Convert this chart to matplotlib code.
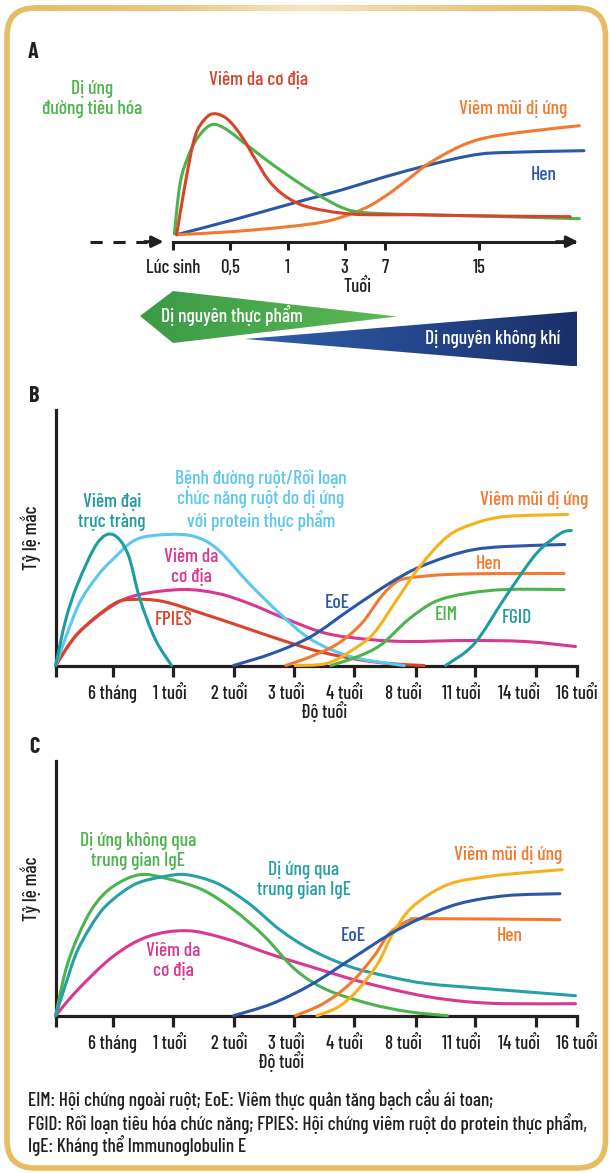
import numpy as np
import matplotlib
matplotlib.use('Agg')
import matplotlib.pyplot as plt
from matplotlib import font_manager as fm
from matplotlib.path import Path
from matplotlib.patches import PathPatch, Polygon, FancyBboxPatch
from matplotlib.colors import LinearSegmentedColormap
from matplotlib.collections import LineCollection

# narrow DIN-like face if there is one
_names = {f.name for f in fm.fontManager.ttflist}
FONT = 'DejaVu Sans'
for cand in ['Barlow Condensed', 'Barlow Semi Condensed', 'Roboto Condensed', 'Fira Sans Condensed']:
    if cand in _names:
        FONT = cand
        break
FAM = [FONT, 'DejaVu Sans']

# ---------------- data ----------------
# panel A, age axis is not linear: positions of the printed ticks
a_tick_pos = [0, 1, 2, 3, 3.7, 5.35]
a_tick_lab = ['Lúc sinh', '0,5', '1', '3', '7', '15']

a_eczema_x = [0.06, 0.21, 0.38, 0.56, 0.73, 0.96, 1.2, 1.43, 1.66, 1.9, 2.19, 2.48, 2.89, 3.35,
              4.23, 5.14, 6.94]
a_eczema_y = [7, 58, 105, 123, 128, 122, 105, 83, 62, 48, 38, 33, 29, 27, 27, 26, 25]
a_gi_x = [0.02, 0.12, 0.26, 0.44, 0.67, 0.91, 1.26, 1.6, 1.95, 2.3, 2.65, 3.0, 3.35, 4.23, 5.14, 7.1]
a_gi_y = [8, 58, 85, 105, 117, 113, 98, 83, 68.5, 55, 43, 33, 29, 27, 26, 23]
a_asthma_x = [0.06, 1.06, 2.19, 2.96, 3.71, 4.46, 5.14, 5.68, 7.18]
a_asthma_y = [7, 22, 40, 52, 65, 76.5, 85.5, 89, 91]
a_rhinitis_x = [0.07, 1.02, 2.0, 2.65, 3.12, 3.47, 3.82, 4.23, 4.46, 5.0, 5.47, 6.16, 7.1]
a_rhinitis_y = [7, 10, 15, 20, 28, 37, 50, 68, 78, 95, 104, 110, 116]

# panels B and C share the age axis; the printed labels sit a bit left of the ticks
age_tick_pos = [0, 0.95, 1.95, 2.96, 3.96, 4.96, 5.99, 6.98, 8.0, 8.67]
age_lab_pos = [0.94, 1.9, 2.885, 3.834, 4.815, 5.78, 6.745, 7.71, 8.675]
age_lab = ['6 tháng', '1 tuổi', '2 tuổi', '3 tuổi', '4 tuổi', '8 tuổi',
           '11 tuổi', '14 tuổi', '16 tuổi']

b_proct_x = [0, 0.17, 0.37, 0.69, 0.95, 1.2, 1.4, 1.66, 1.93]
b_proct_y = [0, 46, 82, 122, 131, 112, 67, 26, 0]
b_fgid_x = [6.49, 6.97, 7.49, 8.0, 8.4, 8.58]
b_fgid_y = [0, 22, 69, 112, 132, 135]
b_entero_x = [0, 0.37, 0.69, 0.95, 1.34, 1.86, 2.31, 2.7, 3.22, 3.73, 4.25, 4.9, 5.55, 5.8]
b_entero_y = [0, 59, 89, 106, 126, 131, 129, 116, 82, 52, 26, 9, 2, 0]
b_eczema_x = [0, 0.37, 0.95, 1.4, 2.12, 2.7, 3.22, 3.86, 4.51, 5.22, 5.87, 6.84, 7.81, 8.65]
b_eczema_y = [0, 32, 60, 71, 76, 72, 62, 46, 32, 26, 24, 25, 24, 19]
b_fpies_x = [0, 0.37, 0.95, 1.28, 1.79, 2.44, 3.09, 3.73, 4.38, 5.03, 5.55, 6.13]
b_fpies_y = [0, 32, 61, 66, 64, 52, 39, 26, 14, 6, 2, 0]
b_eoe_x = [2.96, 3.6, 4.25, 4.9, 5.55, 6.0, 6.52, 6.97, 7.49, 8.47]
b_eoe_y = [0, 12, 29, 56, 82, 97, 109, 116, 119, 121]
b_asthma_x = [3.83, 4.25, 4.7, 5.09, 5.42, 5.68, 5.94, 6.52, 7.49, 8.46]
b_asthma_y = [0, 9, 22, 42, 69, 84, 88, 91, 92, 92]
b_rhinitis_x = [3.99, 4.51, 4.9, 5.29, 5.68, 6.06, 6.52, 6.97, 7.49, 8.52]
b_rhinitis_y = [0, 2, 14, 32, 66, 99, 129, 142, 149, 151]
b_eim_x = [4.58, 5.03, 5.42, 5.87, 6.32, 6.84, 7.49, 8.46]
b_eim_y = [0, 9, 21, 46, 64, 72, 76, 76]

c_nonige_x = [0, 0.17, 0.37, 0.63, 0.95, 1.4, 1.86, 2.44, 2.96, 3.48, 3.99, 4.51, 5.22, 5.87, 6.52]
c_nonige_y = [0, 46, 79, 109, 129, 141, 137, 126, 106, 79, 46, 26, 12, 4, 0]
c_ige_x = [0, 0.17, 0.37, 0.69, 0.95, 1.34, 1.79, 2.18, 2.7, 3.22, 3.73, 4.25, 4.9, 5.55, 6.19, 7.17, 8.65]
c_ige_y = [0, 32, 66, 99, 116, 132, 139, 141, 132, 112, 86, 66, 49, 39, 32, 27, 20]
c_eczema_x = [0, 0.37, 0.95, 1.53, 2.18, 2.83, 3.6, 4.25, 4.9, 5.55, 6.19, 6.84, 7.49, 8.65]
c_eczema_y = [0, 26, 59, 79, 85, 77, 61, 49, 37, 27, 19, 14, 12, 12]
c_eoe_x = [2.96, 3.6, 4.25, 4.9, 5.55, 6.06, 6.71, 7.49, 8.39]
c_eoe_y = [0, 12, 31, 56, 81, 97, 112, 120, 122]
c_asthma_x = [3.99, 4.45, 4.9, 5.29, 5.55, 5.87, 6.19, 8.39]
c_asthma_y = [0, 12, 32, 59, 82, 95, 97, 96]
c_rhinitis_x = [4.35, 4.71, 5.03, 5.36, 5.61, 5.94, 6.52, 7.17, 7.81, 8.43]
c_rhinitis_y = [0, 9, 26, 52, 82, 109, 131, 139, 143, 146]

footer = ['EIM: Hội chứng ngoài ruột; EoE: Viêm thực quản tăng bạch cầu ái toan;',
          'FGID: Rối loạn tiêu hóa chức năng; FPIES: Hội chứng viêm ruột do protein thực phẩm,',
          'IgE: Kháng thể Immunoglobulin E']

# colours
INK = '#231f20'
RED = '#d9432b'
GREEN = '#4db34d'
BLUE = '#2b57a7'
ORANGE = '#f27a30'
YELLOW = '#f6b21b'
TEAL = '#1f9c9e'
TEAL_C = '#26a0a7'
SKY = '#5cc7ef'
MAGENTA = '#d8388f'
GOLD = '#e6bd63'

LAB = 14      # curve labels
TICK = 13.5   # tick labels
LS = 1.15     # line spacing of the two / three line labels

W, H = 610, 1173
fig = plt.figure(figsize=(W / 100, H / 100), dpi=100)
fig.patch.set_facecolor('white')

bg = fig.add_axes([0, 0, 1, 1], zorder=0)
bg.set_xlim(0, W)
bg.set_ylim(H, 0)
bg.set_autoscale_on(False)
bg.axis('off')


def px_axes(x0, y0, x1, y1):
    ax = fig.add_axes([x0 / W, 1 - y1 / H, (x1 - x0) / W, (y1 - y0) / H], zorder=2)
    ax.patch.set_alpha(0)
    return ax


def smooth(ax, xs, ys, color, lw=2.2, z=3):
    # catmull-rom through the read points, drawn as bezier segments
    p = np.column_stack([xs, ys]).astype(float)
    ext = np.vstack([p[0], p, p[-1]])
    verts = [p[0]]
    codes = [Path.MOVETO]
    for i in range(len(p) - 1):
        p0, p1, p2, p3 = ext[i], ext[i + 1], ext[i + 2], ext[i + 3]
        verts += [p1 + (p2 - p0) / 6, p2 - (p3 - p1) / 6, p2]
        codes += [Path.CURVE4] * 3
    ax.add_patch(PathPatch(Path(verts, codes), fill=False, ec=color, lw=lw,
                           capstyle='round', joinstyle='round', zorder=z, clip_on=False))


def txt(x, y, s, color=INK, size=LAB, **kw):
    kw.setdefault('ha', 'center')
    kw.setdefault('va', 'center')
    kw.setdefault('weight', 'medium')
    kw.setdefault('linespacing', LS)
    bg.text(x, y, s, color=color, fontsize=size, family=FAM, **kw)


def grad_poly(verts, c0, c1):
    poly = Polygon(verts, closed=True, fc='none', ec='none')
    bg.add_patch(poly)
    xs = [v[0] for v in verts]
    ys = [v[1] for v in verts]
    cmap = LinearSegmentedColormap.from_list('g', [c0, c1])
    im = bg.imshow(np.linspace(0, 1, 256).reshape(1, -1), cmap=cmap, aspect='auto',
                   extent=(min(xs), max(xs), max(ys), min(ys)), zorder=1)
    im.set_clip_path(poly)


# frame, with the paler stretch along the top edge
bg.add_patch(FancyBboxPatch((7, 8), 598.5, 1160, boxstyle='round,pad=0,rounding_size=28',
                            ec=GOLD, fc='white', lw=4.0, zorder=0))
tx = np.linspace(36, 577, 120)
top_cmap = LinearSegmentedColormap.from_list('top', [GOLD, '#ecc985', '#f6e6c6', '#eecd8c', '#e6bb5c'])
segs = [[(tx[i], 8), (tx[i + 1], 8)] for i in range(len(tx) - 1)]
bg.add_collection(LineCollection(segs, colors=top_cmap(np.linspace(0, 1, len(segs))),
                                 lw=4.0, zorder=0.5, capstyle='butt'))

# ---------------- panel A ----------------
A_X0, A_UNIT, A_BASE = 173.2, 57.2, 241.7
axa = px_axes(0, 30, W, 380)
axa.set_xlim((0 - A_X0) / A_UNIT, (W - A_X0) / A_UNIT)
axa.set_ylim(A_BASE - 380, A_BASE - 30)
for s in ['left', 'right', 'top']:
    axa.spines[s].set_visible(False)
axa.spines['bottom'].set_position(('data', 0))
axa.spines['bottom'].set_bounds(0, 7.0)
axa.spines['bottom'].set_linewidth(2.2)
axa.spines['bottom'].set_color(INK)
axa.set_yticks([])
axa.set_xticks(a_tick_pos)
axa.set_xticklabels(a_tick_lab, family=FAM, fontsize=TICK, color=INK, weight='medium')
axa.tick_params(axis='x', direction='out', length=6, width=2.2, color=INK, pad=6.5)
axa.annotate('', xy=(7.08, 0), xytext=(6.7, 0),
             arrowprops=dict(arrowstyle='-|>', color=INK, lw=2.2, mutation_scale=17,
                             shrinkA=0, shrinkB=0))
axa.plot([-1.45, -0.45], [0, 0], color=INK, lw=2.2, dashes=(4, 3.5), solid_capstyle='butt')
axa.annotate('', xy=(-0.17, 0), xytext=(-0.5, 0),
             arrowprops=dict(arrowstyle='-|>', color=INK, lw=2.2, mutation_scale=17,
                             shrinkA=0, shrinkB=0))

smooth(axa, a_asthma_x, a_asthma_y, BLUE)
smooth(axa, a_rhinitis_x, a_rhinitis_y, ORANGE)
smooth(axa, a_gi_x, a_gi_y, GREEN)
smooth(axa, a_eczema_x, a_eczema_y, RED)

txt(28, 52, 'A', size=16, weight='bold', ha='left')
txt(92, 99, 'Dị ứng\nđường tiêu hóa', GREEN)
txt(259, 80, 'Viêm da cơ địa', RED)
txt(513, 109, 'Viêm mũi dị ứng', ORANGE)
txt(544, 175, 'Hen', BLUE)
txt(358, 287, 'Tuổi', size=TICK)

grad_poly([(140, 316), (173, 291), (397, 316.5), (173, 343)], '#3b9a45', '#5cb857')
grad_poly([(245, 339), (577, 311.5), (577, 366.5)], '#2f60ad', '#1b2f6a')
txt(232, 316, 'Dị nguyên thực phẩm', 'white', zorder=3)
txt(493, 339, 'Dị nguyên không khí', 'white', zorder=3)


# ---------------- panels B and C ----------------
def age_axes(top, base):
    ax = px_axes(55.6, top, 577, base)
    ax.set_xlim(0, 8.67)
    ax.set_ylim(0, base - top)
    for s in ['right', 'top']:
        ax.spines[s].set_visible(False)
    for s in ['left', 'bottom']:
        ax.spines[s].set_linewidth(2.3)
        ax.spines[s].set_color(INK)
        ax.spines[s].set_capstyle('projecting')
    ax.set_yticks([])
    ax.set_xticks(age_tick_pos)
    ax.set_xticklabels([])
    ax.set_xticks(age_lab_pos, minor=True)
    ax.set_xticklabels(age_lab, minor=True, family=FAM, fontsize=TICK, color=INK,
                       weight='medium')
    ax.tick_params(axis='x', which='major', direction='out', length=8, width=2.3, color=INK)
    ax.tick_params(axis='x', which='minor', length=0, pad=14)
    return ax


axb = age_axes(410, 665.5)
smooth(axb, b_eczema_x, b_eczema_y, MAGENTA)
smooth(axb, b_fpies_x, b_fpies_y, RED)
smooth(axb, b_entero_x, b_entero_y, SKY)
smooth(axb, b_proct_x, b_proct_y, TEAL)
smooth(axb, b_eim_x, b_eim_y, GREEN)
smooth(axb, b_asthma_x, b_asthma_y, ORANGE)
smooth(axb, b_eoe_x, b_eoe_y, BLUE)
smooth(axb, b_rhinitis_x, b_rhinitis_y, YELLOW)
smooth(axb, b_fgid_x, b_fgid_y, TEAL)

txt(29, 396, 'B', size=16, weight='bold', ha='left')
txt(31, 538, 'Tỷ lệ mắc', size=14, rotation=90)
txt(324, 712, 'Độ tuổi', size=TICK)
txt(112, 512, 'Viêm đại\ntrực tràng', TEAL)
txt(261, 500, 'Bệnh đường ruột/Rối loạn\nchức năng ruột do dị ứng\nvới protein thực phẩm', SKY)
txt(191, 567, 'Viêm da\ncơ địa', MAGENTA)
txt(174, 620, 'FPIES', RED)
txt(337, 603, 'EoE', BLUE)
txt(534, 500, 'Viêm mũi dị ứng', ORANGE)
txt(489, 564, 'Hen', ORANGE)
txt(446, 615, 'EIM', GREEN)
txt(517, 618, 'FGID', TEAL)

axc = age_axes(760.7, 1015.7)
smooth(axc, c_eczema_x, c_eczema_y, MAGENTA)
smooth(axc, c_nonige_x, c_nonige_y, GREEN)
smooth(axc, c_ige_x, c_ige_y, TEAL_C)
smooth(axc, c_asthma_x, c_asthma_y, ORANGE)
smooth(axc, c_rhinitis_x, c_rhinitis_y, YELLOW)
smooth(axc, c_eoe_x, c_eoe_y, BLUE)

txt(29, 747, 'C', size=16, weight='bold', ha='left')
txt(31, 889, 'Tỷ lệ mắc', size=14, rotation=90)
txt(281, 1062, 'Độ tuổi', size=TICK)
txt(138, 851, 'Dị ứng không qua\ntrung gian IgE', GREEN)
txt(304, 880, 'Dị ứng qua\ntrung gian IgE', TEAL_C)
txt(173, 961, 'Viêm da\ncơ địa', MAGENTA)
txt(353, 936, 'EoE', BLUE)
txt(508, 855, 'Viêm mũi dị ứng', ORANGE)
txt(510, 936, 'Hen', ORANGE)

for i, line in enumerate(footer):
    txt(28, 1100 + 23 * i, line, size=13.8, ha='left')

fig.savefig('out.png', dpi=100, facecolor='white')
